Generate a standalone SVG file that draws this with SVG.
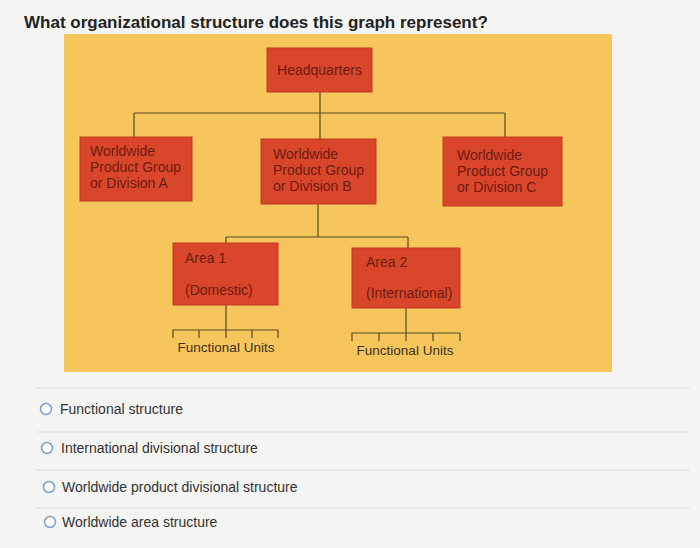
<svg xmlns="http://www.w3.org/2000/svg" width="700" height="548" viewBox="0 0 700 548">
<style>
.box{fill:#d9462b;stroke:#c23a22;stroke-width:1}
.bt{font-family:"Liberation Sans",Arial,sans-serif;font-size:14px;fill:#6e1a10}
.ln{stroke:#5a4a20;stroke-width:1.2;fill:none}
.fu{font-family:"Liberation Sans",Arial,sans-serif;font-size:13.5px;fill:#3a3020}
.opt{font-family:"Liberation Sans",Arial,sans-serif;font-size:14px;fill:#333}
.rad{fill:#fff;stroke:#7aa0c8;stroke-width:1.5}
.sep{stroke:#dcdcdc;stroke-width:1}
</style>
<rect width="700" height="548" fill="#f4f4f2"/>
<text x="24" y="28" font-family="'Liberation Sans',Arial,sans-serif" font-size="17" font-weight="bold" fill="#222">What organizational structure does this graph represent?</text>
<rect x="64" y="34" width="548" height="338" fill="#f6c65c"/>
<g id="connectors">
<path class="ln" d="M320 92V113M134 113H505M134 113V137M505 113V137M320 113V139"/>
<path class="ln" d="M318 204V237M226 237H408M226 237V243M408 237V248"/>
<path class="ln" d="M226 305V330M173 338V330H278V338M199 330V338M252 330V338M226 330V338"/>
<path class="ln" d="M406 308V333M352 341V333H460V341M379 333V341M433 333V341M406 333V341"/>
</g>
<g id="hq"><rect class="box" x="267" y="48" width="105" height="44"/><text class="bt" x="319.5" y="75" text-anchor="middle">Headquarters</text></g>
<g id="divA"><rect class="box" x="80" y="137" width="112" height="64"/><text class="bt" x="90" y="156">Worldwide</text><text class="bt" x="90" y="172">Product Group</text><text class="bt" x="90" y="188">or Division A</text></g>
<g id="divB"><rect class="box" x="261" y="139" width="115" height="65"/><text class="bt" x="273" y="159">Worldwide</text><text class="bt" x="273" y="175">Product Group</text><text class="bt" x="273" y="191">or Division B</text></g>
<g id="divC"><rect class="box" x="443" y="137" width="119" height="69"/><text class="bt" x="457" y="160">Worldwide</text><text class="bt" x="457" y="176">Product Group</text><text class="bt" x="457" y="192">or Division C</text></g>
<g id="area1"><rect class="box" x="173" y="243" width="105" height="62"/><text class="bt" x="185" y="263">Area 1</text><text class="bt" x="185" y="295">(Domestic)</text></g>
<g id="area2"><rect class="box" x="352" y="248" width="108" height="60"/><text class="bt" x="366" y="267">Area 2</text><text class="bt" x="366" y="298">(International)</text></g>
<text class="fu" x="226" y="352" text-anchor="middle">Functional Units</text>
<text class="fu" x="405" y="355" text-anchor="middle">Functional Units</text>
<line class="sep" x1="36" y1="388" x2="690" y2="388"/>
<line class="sep" x1="36" y1="432" x2="690" y2="432"/>
<line class="sep" x1="36" y1="470" x2="690" y2="470"/>
<line class="sep" x1="36" y1="508" x2="690" y2="508"/>
<circle class="rad" cx="46" cy="409" r="5.5"/><text class="opt" x="60" y="414">Functional structure</text>
<circle class="rad" cx="47" cy="448" r="5.5"/><text class="opt" x="61" y="453">International divisional structure</text>
<circle class="rad" cx="49" cy="487" r="5.5"/><text class="opt" x="62" y="492">Worldwide product divisional structure</text>
<circle class="rad" cx="50" cy="522" r="5.5"/><text class="opt" x="62" y="527">Worldwide area structure</text>
</svg>
